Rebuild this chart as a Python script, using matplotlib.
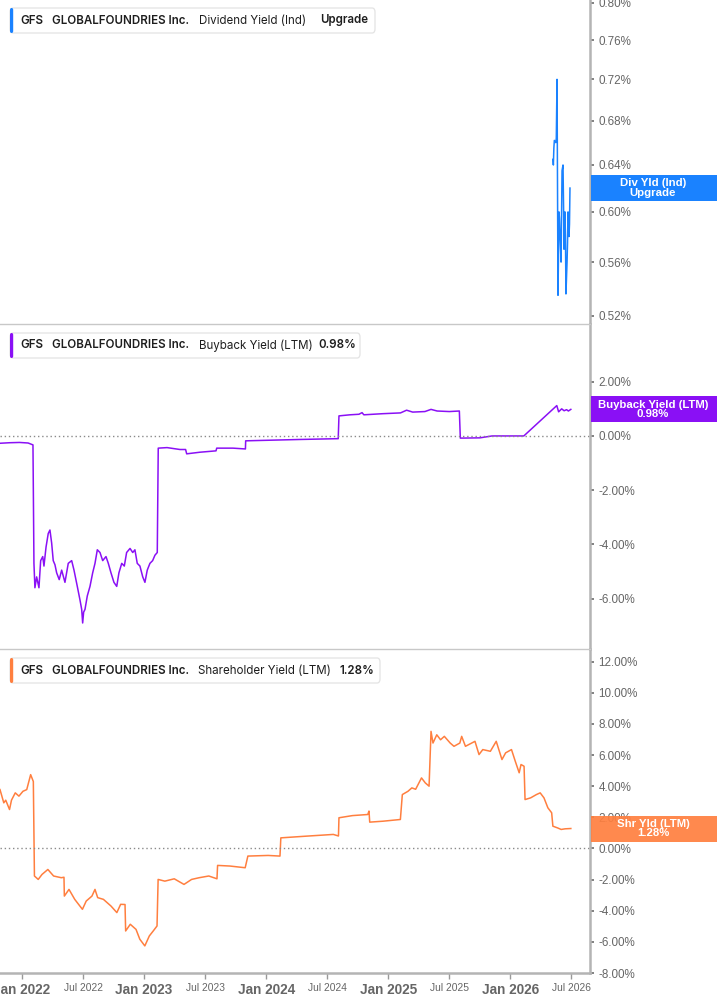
import matplotlib
matplotlib.use("Agg")
import matplotlib.pyplot as plt
from matplotlib.patches import Rectangle, FancyBboxPatch
from matplotlib.ticker import FixedLocator, NullLocator, FuncFormatter

# ---------------- data (x in decimal years) ----------------
div_t = [2026.349, 2026.352, 2026.356, 2026.360, 2026.372, 2026.376, 2026.382, 2026.390,
         2026.398, 2026.402, 2026.407, 2026.415, 2026.423, 2026.431, 2026.436, 2026.439,
         2026.447, 2026.451, 2026.455, 2026.464, 2026.468, 2026.472, 2026.480, 2026.484, 2026.488]
div_v = [0.645, 0.640, 0.655, 0.662, 0.660, 0.664, 0.720, 0.535,
         0.600, 0.595, 0.580, 0.560, 0.635, 0.640, 0.600, 0.570,
         0.600, 0.580, 0.536, 0.560, 0.575, 0.600, 0.580, 0.590, 0.620]

buy_t = [2021.820, 2021.900, 2021.980, 2022.050, 2022.090, 2022.098, 2022.106, 2022.120,
         2022.139, 2022.153, 2022.170, 2022.180, 2022.197, 2022.215, 2022.229, 2022.243,
         2022.256, 2022.270, 2022.284, 2022.305, 2022.325, 2022.352, 2022.379, 2022.407,
         2022.426, 2022.453, 2022.475, 2022.489, 2022.497, 2022.505, 2022.516, 2022.535,
         2022.557, 2022.579, 2022.598, 2022.617, 2022.639, 2022.661, 2022.688, 2022.707,
         2022.729, 2022.753, 2022.776, 2022.794, 2022.817, 2022.838, 2022.857, 2022.885,
         2022.907, 2022.925, 2022.944, 2022.966, 2022.989, 2023.007, 2023.026, 2023.048,
         2023.070, 2023.089, 2023.108, 2023.116, 2023.188, 2023.294, 2023.340, 2023.349,
         2023.458, 2023.589, 2023.595, 2023.728, 2023.830, 2023.832, 2024.007, 2024.277,
         2024.590, 2024.596, 2024.686, 2024.760, 2024.785, 2024.800, 2024.950, 2025.100,
         2025.150, 2025.200, 2025.300, 2025.350, 2025.400, 2025.500, 2025.582, 2025.590,
         2025.750, 2025.850, 2026.110, 2026.380, 2026.395, 2026.420, 2026.440, 2026.460,
         2026.475, 2026.495]
buy_v = [-0.27, -0.25, -0.24, -0.26, -0.33, -4.70, -5.60, -5.20,
         -5.60, -4.60, -4.45, -4.80, -4.10, -3.60, -3.47, -3.95,
         -4.60, -4.75, -5.05, -5.30, -4.95, -5.40, -4.70, -4.60,
         -4.95, -5.55, -6.05, -6.40, -6.90, -6.50, -6.40, -5.90,
         -5.55, -5.05, -4.70, -4.20, -4.30, -4.60, -4.45, -4.70,
         -5.05, -5.40, -5.55, -5.05, -4.70, -4.80, -4.30, -4.15,
         -4.30, -4.20, -4.70, -4.80, -5.20, -5.40, -4.95, -4.70,
         -4.60, -4.40, -4.30, -0.45, -0.43, -0.50, -0.50, -0.66,
         -0.60, -0.55, -0.45, -0.45, -0.48, -0.18, -0.16, -0.13,
         -0.10, 0.74, 0.78, 0.80, 0.86, 0.78, 0.82, 0.85,
         0.95, 0.88, 0.90, 0.98, 0.92, 0.90, 0.92, -0.08,
         -0.07, 0.00, 0.00, 1.12, 0.89, 1.00, 0.93, 0.97,
         0.92, 0.98]

shr_t = [2021.820, 2021.851, 2021.867, 2021.898, 2021.914, 2021.945, 2021.975, 2022.008,
         2022.039, 2022.071, 2022.093, 2022.102, 2022.133, 2022.164, 2022.212, 2022.259,
         2022.322, 2022.344, 2022.347, 2022.385, 2022.432, 2022.495, 2022.526, 2022.573,
         2022.598, 2022.620, 2022.667, 2022.729, 2022.777, 2022.808, 2022.844, 2022.849,
         2022.887, 2022.934, 2022.965, 2023.006, 2023.043, 2023.075, 2023.106, 2023.115,
         2023.170, 2023.247, 2023.327, 2023.389, 2023.451, 2023.530, 2023.597, 2023.602,
         2023.703, 2023.828, 2023.850, 2024.016, 2024.113, 2024.120, 2024.330, 2024.550,
         2024.592, 2024.596, 2024.707, 2024.832, 2024.842, 2024.848, 2024.957, 2025.099,
         2025.115, 2025.161, 2025.193, 2025.224, 2025.272, 2025.303, 2025.334, 2025.350,
         2025.366, 2025.397, 2025.428, 2025.459, 2025.507, 2025.538, 2025.586, 2025.601,
         2025.632, 2025.710, 2025.743, 2025.774, 2025.836, 2025.884, 2025.931, 2025.961,
         2026.009, 2026.040, 2026.072, 2026.087, 2026.112, 2026.120, 2026.166, 2026.213,
         2026.244, 2026.275, 2026.307, 2026.338, 2026.348, 2026.386, 2026.416, 2026.448,
         2026.495]
shr_v = [3.78, 2.93, 3.10, 2.50, 3.10, 3.57, 3.36, 3.67,
         3.78, 4.74, 4.30, -1.77, -1.99, -1.67, -1.35, -1.77,
         -1.88, -1.85, -3.06, -2.63, -3.27, -3.91, -3.38, -3.06,
         -2.63, -3.16, -3.27, -3.70, -4.12, -3.59, -3.60, -5.30,
         -4.87, -5.20, -5.83, -6.26, -5.62, -5.30, -4.98, -1.99,
         -2.10, -1.95, -2.31, -1.99, -1.88, -1.77, -1.95, -1.09,
         -1.13, -1.24, -0.49, -0.45, -0.49, 0.68, 0.79, 0.90,
         0.80, 1.97, 2.11, 2.18, 2.40, 1.69, 1.75, 1.86,
         3.46, 3.67, 3.89, 3.80, 4.53, 4.21, 4.00, 7.52,
         6.77, 7.30, 6.98, 7.20, 6.77, 6.56, 6.77, 7.20,
         6.56, 6.88, 6.03, 6.35, 6.24, 6.88, 5.71, 6.14,
         6.35, 5.60, 4.86, 5.39, 5.28, 3.14, 3.25, 3.46,
         3.57, 3.25, 2.61, 2.29, 1.43, 1.32, 1.22, 1.26,
         1.28]

x_ticks = [2022.0, 2022.5, 2023.0, 2023.5, 2024.0, 2024.5, 2025.0, 2025.5, 2026.0, 2026.5]
x_labels = ["Jan 2022", "Jul 2022", "Jan 2023", "Jul 2023", "Jan 2024", "Jul 2024",
            "Jan 2025", "Jul 2025", "Jan 2026", "Jul 2026"]
div_ticks = [0.52, 0.56, 0.60, 0.64, 0.68, 0.72, 0.76, 0.80]
buy_ticks = [-6, -4, -2, 0, 2]
shr_ticks = [-8, -6, -4, -2, 0, 2, 4, 6, 8, 10, 12]

BLUE = "#1a82ff"
PURPLE = "#8a10f5"
ORANGE = "#ff7f3f"

# ---------------- figure ----------------
plt.rcParams['font.family'] = ['Inter', 'DejaVu Sans']
W, H = 717, 1005
fig = plt.figure(figsize=(W / 100, H / 100), dpi=100)


def fx(px):
    return px / W


def fy(py):
    return 1 - py / H


XR = 590
ax1 = fig.add_axes([0, fy(323), fx(XR), 323 / H])
ax2 = fig.add_axes([0, fy(649), fx(XR), (649 - 324) / H])
ax3 = fig.add_axes([0, fy(973), fx(XR), (973 - 649) / H])

SPINE = "#b4b4b4"
TICKFONT = ['Liberation Sans', 'DejaVu Sans']

for ax in (ax1, ax2, ax3):
    ax.set_xlim(2021.820, 2026.652)
    for s in ('left', 'top', 'bottom'):
        ax.spines[s].set_visible(False)
    ax.spines['right'].set_color(SPINE)
    ax.spines['right'].set_linewidth(1.8)
    ax.yaxis.tick_right()
    ax.tick_params(axis='y', direction='out', length=3, width=1.3, color='#777777',
                   labelsize=8.4, labelcolor='#666666', pad=3)
    ax.set_facecolor('none')

ax2.spines['top'].set_visible(True)
ax2.spines['top'].set_color("#c8c8c8")
ax2.spines['top'].set_linewidth(1.0)
ax3.spines['top'].set_visible(True)
ax3.spines['top'].set_color("#c8c8c8")
ax3.spines['top'].set_linewidth(1.0)
ax3.spines['bottom'].set_visible(True)
ax3.spines['bottom'].set_color(SPINE)
ax3.spines['bottom'].set_linewidth(1.8)

# panel 1: dividend yield (log scale)
ax1.plot(div_t, div_v, color=BLUE, lw=1.1)
ax1.set_yscale('log')
ax1.set_ylim(0.515, 0.803)
ax1.yaxis.set_major_locator(FixedLocator(div_ticks))
ax1.yaxis.set_minor_locator(NullLocator())
ax1.yaxis.set_major_formatter(FuncFormatter(lambda v, p: f"{v:.2f}%"))
ax1.set_xticks([])

# panel 2: buyback yield
ax2.plot(buy_t, buy_v, color=PURPLE, lw=1.1)
ax2.axhline(0, color='#8a8a8a', lw=1.0, ls=(0, (1, 2)))
ax2.set_ylim(-7.86, 4.13)
ax2.set_yticks(buy_ticks)
ax2.yaxis.set_major_formatter(FuncFormatter(lambda v, p: f"{v:.2f}%"))
ax2.set_xticks([])

# panel 3: shareholder yield
ax3.plot(shr_t, shr_v, color=ORANGE, lw=1.1)
ax3.axhline(0, color='#8a8a8a', lw=1.0, ls=(0, (1, 2)))
ax3.set_ylim(-8.0, 12.81)
ax3.set_yticks(shr_ticks)
ax3.yaxis.set_major_formatter(FuncFormatter(lambda v, p: f"{v:.2f}%"))
ax3.set_xticks(x_ticks)
ax3.set_xticklabels(x_labels)
ax3.tick_params(axis='x', direction='out', length=4, width=1.0, color='#999999',
                labelcolor='#666666', pad=3)
for lab in ax3.get_xticklabels():
    if lab.get_text().startswith("Jan"):
        lab.set_fontsize(9.8)
        lab.set_fontweight('bold')
    else:
        lab.set_fontsize(7.4)
    lab.set_family(TICKFONT)

for ax in (ax1, ax2, ax3):
    for lab in ax.get_yticklabels():
        lab.set_family(TICKFONT)


# ---------------- legends ----------------
def legend_box(top, bot, right, color, parts):
    box = FancyBboxPatch((fx(10), fy(bot)), fx(right) - fx(10), fy(top) - fy(bot),
                         boxstyle="round,pad=0,rounding_size=0.004",
                         transform=fig.transFigure, facecolor='white',
                         edgecolor='#e3e3e3', lw=0.9, zorder=5)
    fig.add_artist(box)
    bar = FancyBboxPatch((fx(10), fy(bot)), fx(3.2), fy(top) - fy(bot),
                         boxstyle="round,pad=0,rounding_size=0.002",
                         transform=fig.transFigure, facecolor=color,
                         edgecolor='none', zorder=6)
    fig.add_artist(bar)
    yc = fy((top + bot) / 2)
    for x, txt, wt in parts:
        fig.text(fx(x), yc, txt, ha='left', va='center', fontsize=8.3,
                 fontweight=wt, color='#1e1e1e', zorder=7)


legend_box(8, 33, 375, BLUE, [(20, "GFS", 'semibold'), (52, "GLOBALFOUNDRIES Inc.", 'semibold'),
                              (199, "Dividend Yield (Ind)", 'normal'), (320, "Upgrade", 'semibold')])
legend_box(333, 358, 360, PURPLE, [(20, "GFS", 'semibold'), (52, "GLOBALFOUNDRIES Inc.", 'semibold'),
                                  (199, "Buyback Yield (LTM)", 'normal'), (318, "0.98%", 'semibold')])
legend_box(658, 683, 380, ORANGE, [(20, "GFS", 'semibold'), (52, "GLOBALFOUNDRIES Inc.", 'semibold'),
                                  (198, "Shareholder Yield (LTM)", 'normal'), (339, "1.28%", 'semibold')])


# ---------------- end labels ----------------
def end_label(ax, value, color, l1, l2, alpha=1.0):
    disp = ax.transData.transform((2026.0, value))
    yfig = fig.transFigure.inverted().transform(disp)[1]
    hh = 26 / H
    rect = Rectangle((fx(XR + 1), yfig - hh / 2), 1 - fx(XR + 1), hh,
                     transform=fig.transFigure, facecolor=color, edgecolor='none',
                     alpha=alpha, zorder=8)
    fig.add_artist(rect)
    fig.text(fx(653), yfig, l1 + "\n" + l2, ha='center', va='center', fontsize=8.2,
             fontweight='bold', color='white', linespacing=0.92, zorder=9,
             family=TICKFONT)


end_label(ax1, 0.62, BLUE, "Div Yld (Ind)", "Upgrade")
end_label(ax2, 0.98, PURPLE, "Buyback Yield (LTM)", "0.98%")
end_label(ax3, 1.28, ORANGE, "Shr Yld (LTM)", "1.28%", alpha=0.92)

fig.savefig("out.png", dpi=100)
